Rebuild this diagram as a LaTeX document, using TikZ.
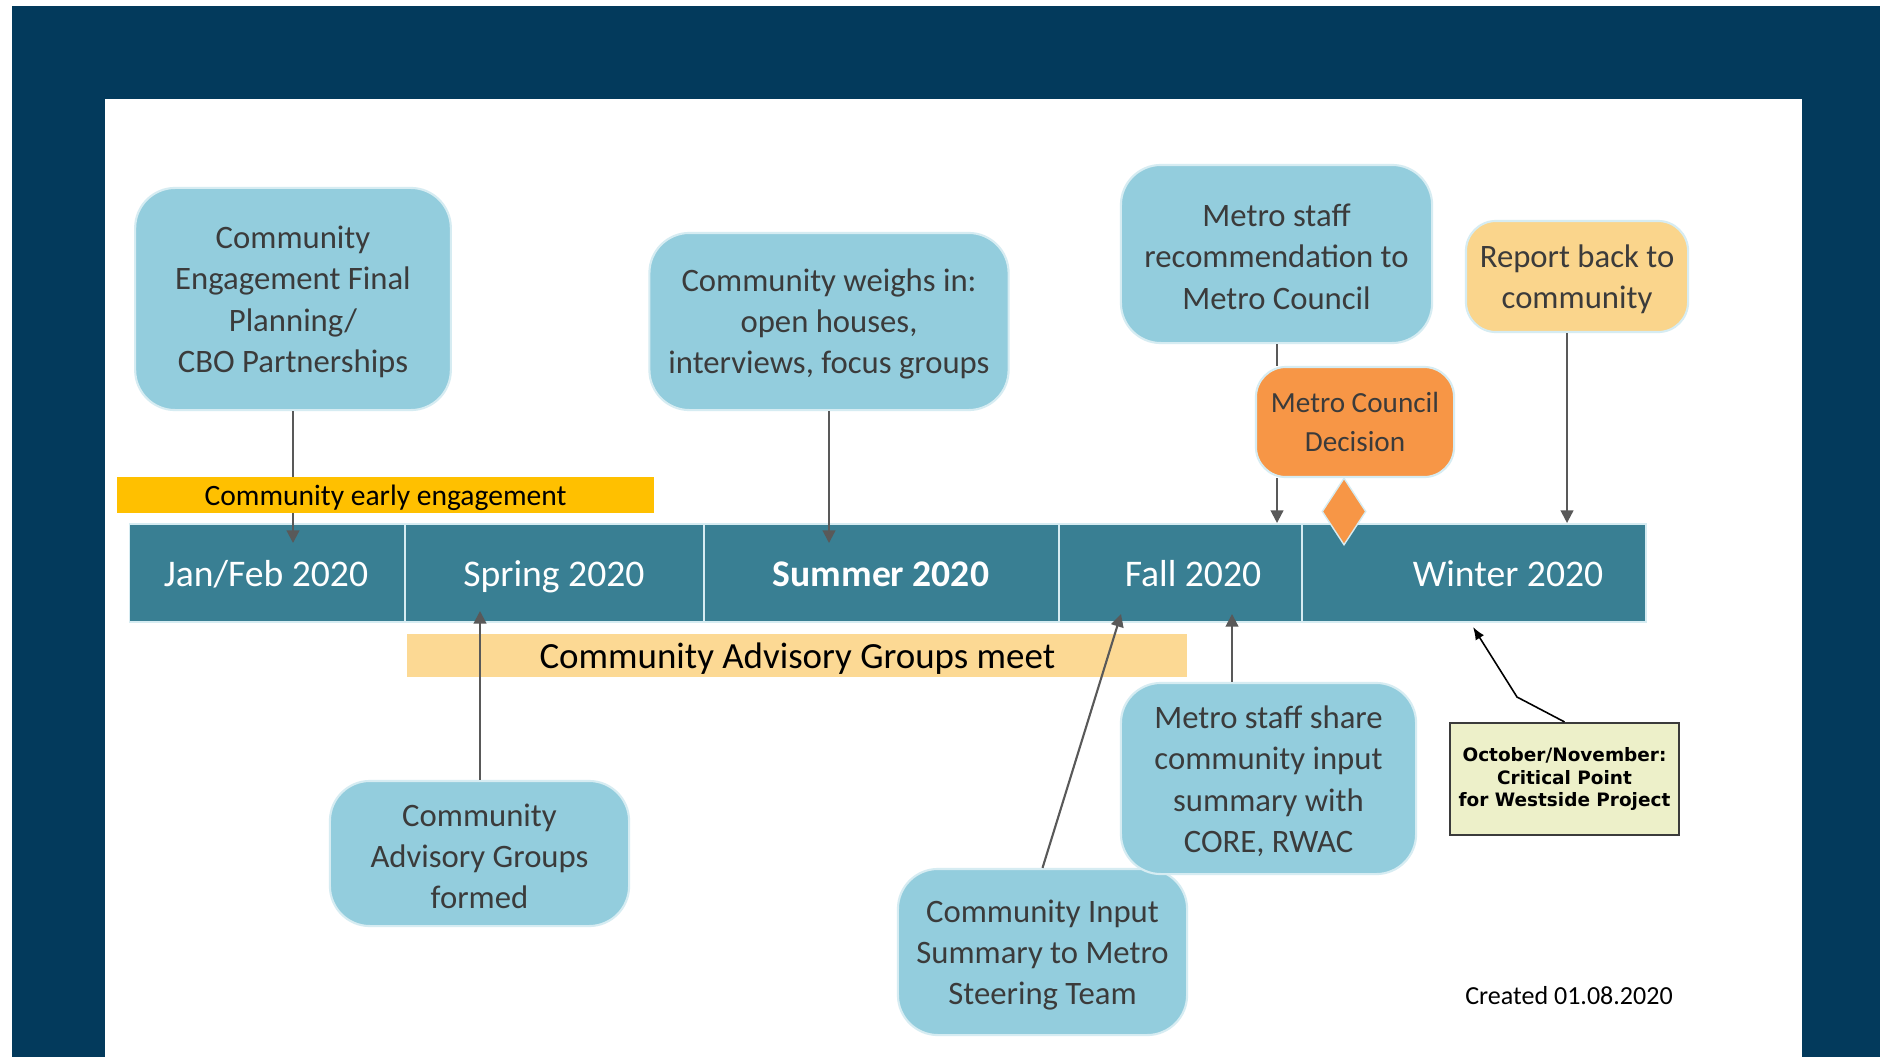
\documentclass[tikz,border=0pt]{standalone}
\usepackage{fontspec}
\usepackage{xcolor}
\usepackage{tikz}
\usetikzlibrary{arrows.meta}
\usetikzlibrary{shapes.geometric}
\setmainfont{Carlito}
\newfontfamily\notefont{DejaVu Sans}
\newcommand\boxtop{\rule{0pt}{8pt}}

\definecolor{framenavy}{HTML}{033A5C}
\definecolor{barteal}{HTML}{397F93}
\definecolor{boxblue}{HTML}{93CDDD}
\definecolor{boxedge}{HTML}{D6ECF2}
\definecolor{decorange}{HTML}{F79646}
\definecolor{reportsand}{HTML}{FAD58C}
\definecolor{earlygold}{HTML}{FFC000}
\definecolor{meetsand}{HTML}{FCD994}
\definecolor{notefill}{HTML}{EDF0C9}
\definecolor{txtgray}{HTML}{3B3B3B}
\definecolor{arrgray}{HTML}{595959}

\tikzset{
  season/.style={draw=boxedge, fill=barteal, line width=0.4pt, minimum height=0.98cm, inner sep=0pt},
  seasonlbl/.style={text=white, font=\fontsize{10.7}{12}\selectfont, inner sep=0pt, text height=7pt, text depth=0pt},
  eventbox/.style={draw=boxedge, line width=0.6pt, rounded corners=0.4cm, align=center, text=txtgray, inner sep=0pt, font=\fontsize{9.3}{11.7}\selectfont},
  bluebox/.style={eventbox, fill=boxblue},
  phasebar/.style={inner sep=0pt, text=black, text depth=0pt},
  arr/.style={draw=arrgray, line width=0.6pt, -{Triangle[length=3.6pt,width=3.6pt]}},
  notearr/.style={draw=black, line width=0.45pt, -{Latex[length=3.6pt,width=2.8pt]}}
}

\begin{document}
\begin{tikzpicture}[x=0.01cm, y=-0.01cm]
  \useasboundingbox (0,0) rectangle (1880,1057);
  \fill[white] (0,0) rectangle (1880,1057);
  \fill[framenavy] (12,6) rectangle (1880,1057);
  \fill[white] (105,99) rectangle (1802,1057);

  \node[season, minimum width=2.755cm] (jan) at (267.25,573) {};
  \node[season, minimum width=2.99cm] (spr) at (554.5,573) {};
  \node[season, minimum width=3.55cm] (sum) at (881.5,573) {};
  \node[season, minimum width=2.43cm] (fal) at (1180.5,573) {};
  \node[season, minimum width=3.44cm] (win) at (1474,573) {};
  \node[seasonlbl] (janlbl) at (266,574) {Jan/Feb 2020};
  \node[seasonlbl] (sprlbl) at (554,574) {Spring 2020};
  \node[seasonlbl, font=\fontsize{10.7}{12}\selectfont\bfseries] (sumlbl) at (881,574) {Summer 2020};
  \node[seasonlbl] (fallbl) at (1193,574) {Fall 2020};
  \node[seasonlbl] (winlbl) at (1508,574) {Winter 2020};

  \node[phasebar, fill=meetsand, minimum width=7.793cm, minimum height=0.43cm, text height=7.6pt, font=\fontsize{10.5}{12}\selectfont] (meet) at (797.35,655.5) {Community Advisory Groups meet};

  \node[bluebox, minimum width=3.155cm, minimum height=2.22cm] (plan) at (293,299) {\boxtop Community\\Engagement Final\\Planning/\\CBO Partnerships};
  \node[bluebox, minimum width=3.59cm, minimum height=1.77cm] (weigh) at (829,321.5) {\boxtop Community weighs in:\\open houses,\\interviews, focus groups};
  \node[bluebox, minimum width=3.11cm, minimum height=1.78cm] (recom) at (1276.5,254) {\boxtop Metro staff\\recommendation to\\Metro Council};
  \node[eventbox, fill=reportsand, rounded corners=0.3cm, minimum width=2.22cm, minimum height=1.11cm] (report) at (1577,276.5) {\boxtop Report back to\\community};
  \node[eventbox, fill=decorange, rounded corners=0.3cm, minimum width=1.98cm, minimum height=1.1cm, font=\fontsize{8.3}{11.3}\selectfont] (decision) at (1355,422) {Metro Council\\Decision};
  \node[bluebox, minimum width=2.99cm, minimum height=1.45cm] (formed) at (479.5,853.5) {\boxtop Community\\Advisory Groups\\formed};
  \node[bluebox, minimum width=2.89cm, minimum height=1.66cm] (input) at (1042.5,952) {\boxtop Community Input\\Summary to Metro\\Steering Team};
  \node[bluebox, minimum width=2.95cm, minimum height=1.91cm] (share) at (1268.5,778.5) {\boxtop Metro staff share\\community input\\summary with\\CORE, RWAC};
  \node[draw=txtgray, line width=0.6pt, fill=notefill, minimum width=2.29cm, minimum height=1.12cm, inner sep=0pt, align=center, font=\notefont\bfseries\fontsize{5.25}{6.3}\selectfont] (note) at (1564.5,779) {October/November:\\Critical Point\\for Westside Project};
  \node[font=\fontsize{7.4}{9}\selectfont, inner sep=0pt] (created) at (1569,996) {Created 01.08.2020};

  \coordinate (tipjan) at (293,543);
  \coordinate (tipsum) at (829,543);
  \coordinate (tipspr) at (480,611);
  \coordinate (tipfalA) at (1121,614);
  \coordinate (tipfalB) at (1232,614);
  \coordinate (tipwinA) at (1277,523);
  \coordinate (tipwinB) at (1567,523);
  \coordinate (notebend) at (1517,697);
  \coordinate (tipnote) at (1473,627);

  \draw[arr] (plan.south) -- (tipjan);
  \draw[arr] (weigh.south) -- (tipsum);
  \draw[arr] (formed.north -| tipspr) -- (tipspr);
  \draw[arr] (input.north) -- (tipfalA);
  \draw[arr] (share.north -| tipfalB) -- (tipfalB);
  \draw[draw=arrgray, line width=0.6pt] (recom.south -| tipwinA) -- (decision.north -| tipwinA);
  \draw[arr] (decision.south -| tipwinA) -- (tipwinA);
  \draw[arr] (report.south -| tipwinB) -- (tipwinB);
  \draw[notearr] (note.north) -- (notebend) -- (tipnote);

  \node[phasebar, fill=earlygold, minimum width=5.36cm, minimum height=0.36cm, text height=6pt, font=\fontsize{8.4}{10}\selectfont] (early) at (385.5,495) {Community early engagement};
  \node[diamond, draw=boxedge, line width=0.4pt, fill=decorange, minimum width=0.44cm, minimum height=0.67cm, inner sep=0pt] (milestone) at (1344,511.5) {};
\end{tikzpicture}
\end{document}
